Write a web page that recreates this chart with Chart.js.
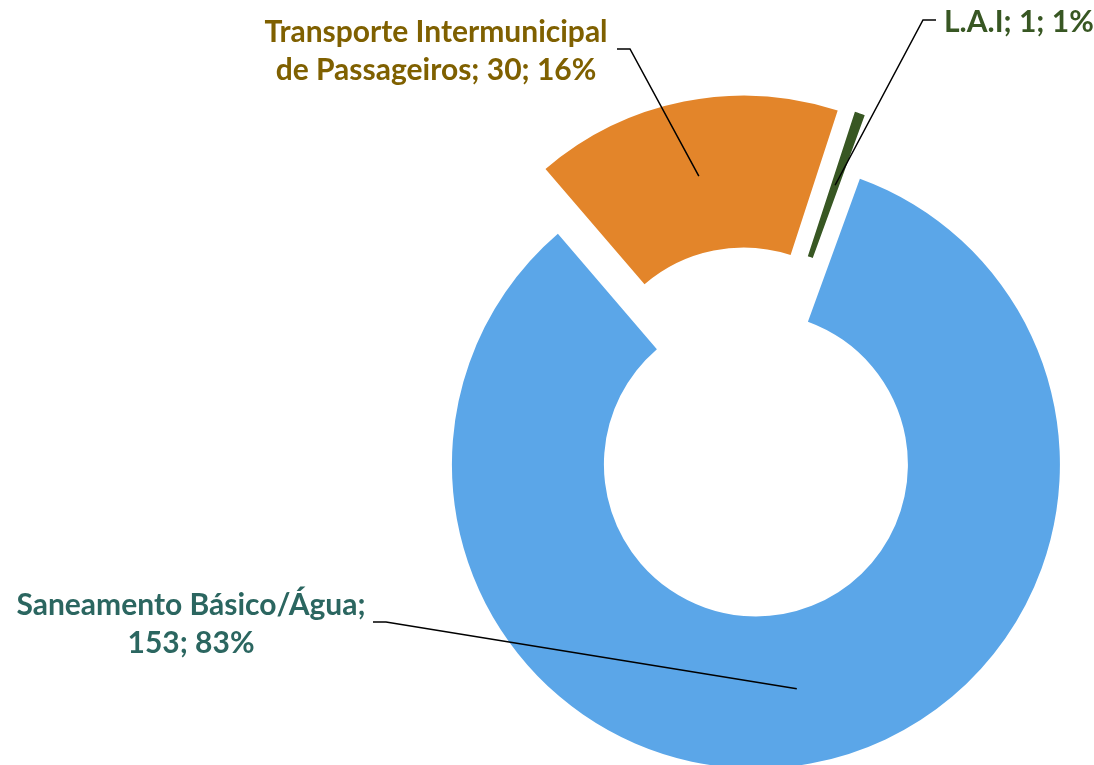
<!DOCTYPE html>
<html>
<head>
<meta charset="utf-8">
<script src="https://cdn.jsdelivr.net/npm/chart.js@4/dist/chart.umd.min.js"></script>
<style>
  html, body { margin: 0; padding: 0; background: #fff; }
  #wrap { width: 1094px; height: 765px; position: relative; }
</style>
</head>
<body>
<div id="wrap"><canvas id="chart"></canvas></div>
<script>
// dados do gráfico
const categories = ['Saneamento Básico/Água', 'Transporte Intermunicipal de Passageiros', 'L.A.I'];
const values = [153, 30, 1];
const labelLines = [
    ['Saneamento Básico/Água;', '153; 83%'],
    ['Transporte Intermunicipal', 'de Passageiros; 30; 16%'],
    ['L.A.I; 1; 1%']
];
const sliceColors = ['#5BA6E8', '#E3852A', '#385723'];
const labelColors = ['#2B6660', '#7F6000', '#385723'];

// posição dos rótulos (primeira linha base) e da linha guia
const labelPlaces = [
    { x: 191, y: 615, align: 'center', from: [373, 622], elbow: [386, 622] },
    { x: 436, y: 42, align: 'center', from: [617, 49], elbow: [630, 49] },
    { x: 944, y: 32, align: 'left', from: [936, 20], elbow: [923, 20] }
];

const FONT = 'bold 30px Lato';
const EXPLODE = 33; // distância das fatias destacadas, em px

// destaca as fatias movendo o centro de cada arco (sem encolher a fatia pequena)
const explodeSlices = {
    id: 'explodeSlices',
    beforeDatasetsDraw(chart) {
        const meta = chart.getDatasetMeta(0);
        meta.data.forEach(arc => {
            if (arc.$baseX === undefined) {
                arc.$baseX = arc.x;
                arc.$baseY = arc.y;
            }
            const mid = (arc.startAngle + arc.endAngle) / 2;
            arc.x = arc.$baseX + Math.cos(mid) * EXPLODE;
            arc.y = arc.$baseY + Math.sin(mid) * EXPLODE;
        });
    }
};

const leaderLabels = {
    id: 'leaderLabels',
    afterDatasetsDraw(chart) {
        const ctx = chart.ctx;
        const meta = chart.getDatasetMeta(0);
        ctx.save();
        meta.data.forEach((arc, i) => {
            const mid = (arc.startAngle + arc.endAngle) / 2;
            const r = (arc.innerRadius + arc.outerRadius) / 2;
            const tx = arc.x + Math.cos(mid) * r;
            const ty = arc.y + Math.sin(mid) * r;

            const place = labelPlaces[i];
            ctx.strokeStyle = '#000';
            ctx.lineWidth = 1.5;
            ctx.beginPath();
            ctx.moveTo(place.from[0], place.from[1]);
            ctx.lineTo(place.elbow[0], place.elbow[1]);
            ctx.lineTo(tx, ty);
            ctx.stroke();

            ctx.fillStyle = labelColors[i];
            ctx.font = FONT;
            ctx.textAlign = place.align;
            ctx.textBaseline = 'alphabetic';
            labelLines[i].forEach((line, j) => {
                ctx.fillText(line, place.x, place.y + j * 38);
            });
        });
        ctx.restore();
    }
};

const ctx = document.getElementById('chart').getContext('2d');
new Chart(ctx, {
    type: 'doughnut',
    data: {
        labels: categories,
        datasets: [{
            data: values,
            backgroundColor: sliceColors,
            borderWidth: 0,
            offset: 0,
            clip: false
        }]
    },
    options: {
        responsive: true,
        maintainAspectRatio: false,
        animation: false,
        events: [],
        rotation: 20,
        radius: 304,
        cutout: '50%',
        layout: { padding: { left: 406, right: 0, top: 99, bottom: 0 } },
        plugins: {
            legend: { display: false },
            tooltip: { enabled: false }
        }
    },
    plugins: [explodeSlices, leaderLabels]
});
</script>
</body>
</html>
